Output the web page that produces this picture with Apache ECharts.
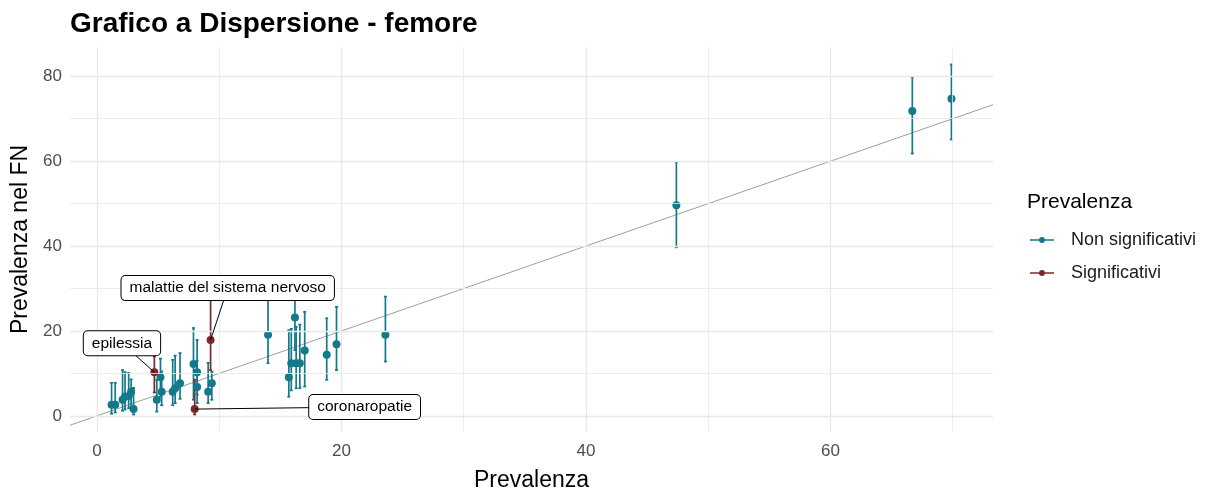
<!DOCTYPE html>
<html>
<head>
<meta charset="utf-8">
<script src="https://cdn.jsdelivr.net/npm/echarts@6/dist/echarts.min.js"></script>
<style>
html, body { margin: 0; padding: 0; background: #fff; }
#main { width: 1210px; height: 494px; }
</style>
</head>
<body>
<div id="main"></div>
<script>
// Non significativi: x, y, limite inferiore, limite superiore
var nsX  = [1.2, 1.5, 2.1, 2.3, 2.6, 2.8, 3.0, 4.9, 5.2, 5.3, 6.2, 6.4, 6.8, 7.9, 8.2, 8.2, 9.1, 9.4, 14.0, 15.7, 15.9, 16.2, 16.3, 16.6, 17.0, 18.8, 19.6, 23.6, 47.4, 66.7, 69.9];
var nsY  = [2.6, 2.6, 3.8, 4.5, 4.7, 5.7, 1.6, 3.8, 9.1, 5.7, 5.7, 6.5, 7.7, 12.2, 10.3, 6.8, 5.7, 7.7, 19.1, 9.1, 12.4, 23.2, 12.4, 12.4, 15.4, 14.4, 16.9, 19.1, 49.6, 71.8, 74.7];
var nsLo = [0.5, 0.8, 1.2, 1.5, 1.8, 2.0, 0.3, 1.0, 4.5, 2.5, 2.5, 3.0, 4.0, 3.8, 5.0, 3.0, 3.0, 3.8, 12.4, 4.5, 6.0, 15.5, 6.5, 6.5, 6.9, 8.5, 10.8, 12.8, 39.7, 61.8, 65.1];
var nsHi = [7.8, 7.8, 10.8, 10.3, 10.1, 8.6, 6.6, 8.5, 13.5, 10.5, 13.2, 14.2, 14.8, 20.7, 17.9, 13.0, 12.5, 10.4, 27.5, 20.2, 20.5, 30.0, 21.0, 21.5, 24.5, 23.0, 25.7, 28.1, 59.8, 79.8, 82.8];

// Significativi
var sgNome = ['epilessia', 'coronaropatie', 'malattie del sistema nervoso'];
var sgX  = [4.7, 8.0, 9.3];
var sgY  = [10.3, 1.6, 17.9];
var sgLo = [5.5, 0.3, 10.8];
var sgHi = [14.0, 8.5, 28.0];

// posizione etichette (unita' dei dati)
var etiX = [2.05, 21.9, 10.7];
var etiY = [17.1, 2.1, 30.1];

var xTick = [0, 20, 40, 60];
var yTick = [0, 20, 40, 60, 80];
var xMinor = [10, 30, 50, 70];
var yMinor = [10, 30, 50, 70];
var xLim = [-2.2, 73.3];
var yLim = [-3.8, 86.9];

var colNS = '#13798B';
var colSG = '#7A2A2A';
var font = "'Liberation Sans', Arial, sans-serif";

function punti(xs, ys) {
	return xs.map(function (x, i) { return [x, ys[i]]; });
}
function barre(xs, lo, hi) {
	return xs.map(function (x, i) { return [x, lo[i], hi[i]]; });
}

function renderErr(params, api) {
	var x = api.value(0);
	var top = api.coord([x, api.value(2)]);
	var bot = api.coord([x, api.value(1)]);
	var st = { stroke: api.visual('color'), lineWidth: 1.7 };
	return {
		type: 'group',
		children: [
			{ type: 'line', shape: { x1: top[0], y1: top[1], x2: bot[0], y2: bot[1] }, style: st },
			{ type: 'line', shape: { x1: top[0] - 1.5, y1: top[1], x2: top[0] + 1.5, y2: top[1] }, style: st },
			{ type: 'line', shape: { x1: bot[0] - 1.5, y1: bot[1], x2: bot[0] + 1.5, y2: bot[1] }, style: st }
		]
	};
}

function renderEti(params, api) {
	var p = api.coord([api.value(0), api.value(1)]);
	var l = api.coord([api.value(2), api.value(3)]);
	return {
		type: 'group',
		children: [
			{ type: 'line', shape: { x1: p[0], y1: p[1], x2: l[0], y2: l[1] }, style: { stroke: '#000', lineWidth: 1 } },
			{
				type: 'text', x: l[0], y: l[1],
				style: {
					text: sgNome[params.dataIndex], fill: '#000', font: '15.5px ' + font,
					align: 'center', verticalAlign: 'middle',
					backgroundColor: '#fff', borderColor: '#000', borderWidth: 1, borderRadius: 4,
					padding: [4, 8]
				}
			}
		]
	};
}

var griglia = [];
xTick.forEach(function (v) { griglia.push({ xAxis: v, lineStyle: { width: 1.3 } }); });
yTick.forEach(function (v) { griglia.push({ yAxis: v, lineStyle: { width: 1.3 } }); });
xMinor.forEach(function (v) { griglia.push({ xAxis: v, lineStyle: { width: 0.8 } }); });
yMinor.forEach(function (v) { griglia.push({ yAxis: v, lineStyle: { width: 0.8 } }); });

var keyIcon = 'path://M0,2.3 L9.2,2.3 L9.2,3.7 L0,3.7 Z M14.8,2.3 L24,2.3 L24,3.7 L14.8,3.7 Z M12,0 A3,3 0 1 1 11.99,0 Z';

var option = {
	animation: false,
	backgroundColor: '#fff',
	textStyle: { fontFamily: font },
	title: [{
		text: 'Grafico a Dispersione - femore',
		left: 70, top: 10, padding: 0,
		textStyle: { fontSize: 28, fontWeight: 'bold', color: '#000', fontFamily: font }
	}, {
		text: 'Prevalenza',
		left: 1027, top: 192, padding: 0,
		textStyle: { fontSize: 21, fontWeight: 'normal', color: '#000', fontFamily: font }
	}],
	legend: {
		orient: 'vertical', left: 1030, top: 230, padding: 0,
		itemWidth: 24, itemHeight: 6, itemGap: 13,
		data: [{ name: 'Non significativi', icon: keyIcon }, { name: 'Significativi', icon: keyIcon }],
		textStyle: { fontSize: 18, color: '#1a1a1a', lineHeight: 20, padding: [0, 0, 0, 12], fontFamily: font }
	},
	grid: { left: 70, right: 217, top: 47, bottom: 62, outerBoundsMode: 'none' },
	xAxis: {
		type: 'value', min: xLim[0], max: xLim[1],
		axisLine: { show: false }, axisTick: { show: false }, splitLine: { show: false },
		axisLabel: { customValues: xTick, color: '#4d4d4d', fontSize: 17, margin: 11, fontFamily: font },
		name: 'Prevalenza', nameLocation: 'middle', nameGap: 37,
		nameTextStyle: { fontSize: 23, color: '#000', fontFamily: font }
	},
	yAxis: {
		type: 'value', min: yLim[0], max: yLim[1],
		axisLine: { show: false }, axisTick: { show: false }, splitLine: { show: false },
		axisLabel: { customValues: yTick, color: '#4d4d4d', fontSize: 17, margin: 8, fontFamily: font },
		name: 'Prevalenza nel FN', nameLocation: 'middle', nameGap: 33,
		nameTextStyle: { fontSize: 23, color: '#000', fontFamily: font }
	},
	series: [{
		name: 'griglia', type: 'line', data: [], z: 0, silent: true,
		markLine: {
			silent: true, symbol: ['none', 'none'], label: { show: false },
			lineStyle: { color: '#e8e8e8', type: 'solid' },
			data: griglia
		}
	}, {
		name: 'bisettrice', type: 'line', z: 1, silent: true,
		data: [[xLim[0], xLim[0]], [xLim[1], xLim[1]]],
		symbol: 'none', lineStyle: { color: '#9e9e9e', width: 1 }
	}, {
		name: 'Non significativi', type: 'scatter', z: 4,
		data: punti(nsX, nsY), symbolSize: 8,
		itemStyle: { color: colNS, opacity: 1 }
	}, {
		name: 'Significativi', type: 'scatter', z: 4,
		data: punti(sgX, sgY), symbolSize: 8,
		itemStyle: { color: colSG, opacity: 1 }
	}, {
		name: 'Non significativi', type: 'custom', z: 3,
		renderItem: renderErr, data: barre(nsX, nsLo, nsHi),
		encode: { x: 0, y: [1, 2] }, itemStyle: { color: colNS }
	}, {
		name: 'Significativi', type: 'custom', z: 3,
		renderItem: renderErr, data: barre(sgX, sgLo, sgHi),
		encode: { x: 0, y: [1, 2] }, itemStyle: { color: colSG }
	}, {
		name: 'etichette', type: 'custom', z: 5, clip: false, silent: true,
		renderItem: renderEti,
		data: sgX.map(function (x, i) { return [x, sgY[i], etiX[i], etiY[i]]; }),
		encode: { x: [0, 2], y: [1, 3] }
	}]
};

var chart = echarts.init(document.getElementById('main'));
chart.setOption(option);
</script>
</body>
</html>
